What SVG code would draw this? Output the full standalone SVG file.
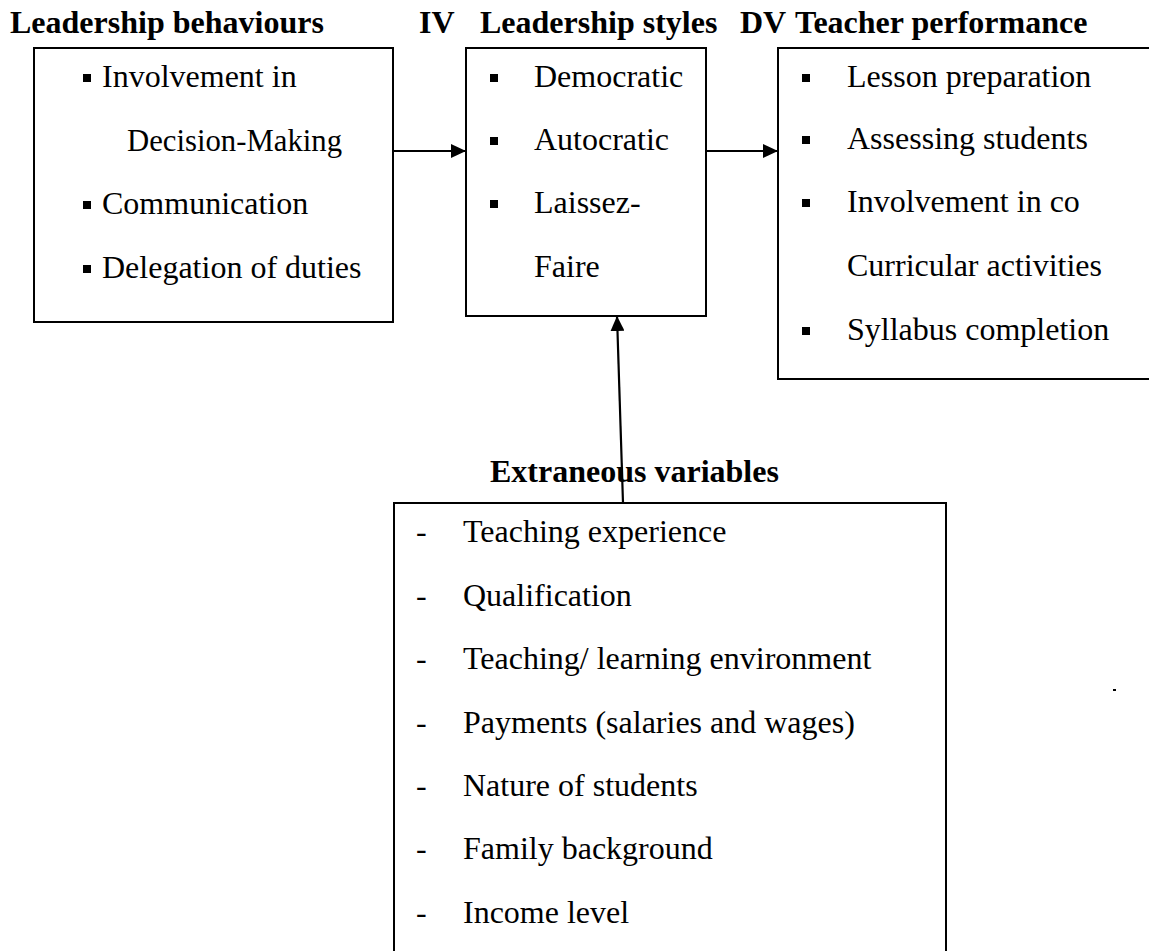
<svg xmlns="http://www.w3.org/2000/svg" width="1149" height="951" viewBox="0 0 1149 951">
<defs>
<style>
.box{fill:none;stroke:#000;stroke-width:2}
.t{font-family:"Liberation Serif","Times New Roman",serif;font-size:32px;fill:#000}
.h{font-family:"Liberation Serif","Times New Roman",serif;font-size:32px;font-weight:bold;fill:#000}
.b{fill:#000}
.c{stroke:#000;stroke-width:2.2;fill:none}
</style>
<marker id="arr" markerUnits="userSpaceOnUse" markerWidth="15" markerHeight="14" refX="15" refY="7" orient="auto">
<path d="M0,0 L15,7 L0,14 z" fill="#000"/>
</marker>
</defs>
<rect width="1149" height="951" fill="#fff"/>

<g id="titles">
<text class="h" x="10" y="33">Leadership behaviours</text>
<text class="h" x="419" y="33">IV</text>
<text class="h" x="480" y="33">Leadership styles</text>
<text class="h" x="740" y="33">DV</text>
<text class="h" x="795" y="33">Teacher performance</text>
<text class="h" x="490" y="482">Extraneous variables</text>
</g>

<g id="behaviours">
<rect class="box" x="34" y="48" width="359" height="274"/>
<rect class="b" x="83" y="74" width="8" height="8"/>
<text class="t" x="102" y="87">Involvement in</text>
<text class="t" x="127" y="151" textLength="215" lengthAdjust="spacingAndGlyphs">Decision-Making</text>
<rect class="b" x="83" y="201" width="8" height="8"/>
<text class="t" x="102" y="214">Communication</text>
<rect class="b" x="83" y="265" width="8" height="8"/>
<text class="t" x="102" y="278">Delegation of duties</text>
</g>

<g id="styles">
<rect class="box" x="466" y="48" width="240" height="268"/>
<rect class="b" x="490" y="74" width="8" height="8"/>
<text class="t" x="534" y="87">Democratic</text>
<rect class="b" x="490" y="137" width="8" height="8"/>
<text class="t" x="534" y="150">Autocratic</text>
<rect class="b" x="490" y="200" width="8" height="8"/>
<text class="t" x="534" y="213">Laissez-</text>
<text class="t" x="534" y="277">Faire</text>
</g>

<g id="performance">
<rect class="box" x="778" y="48" width="390" height="331"/>
<rect class="b" x="802" y="74" width="8" height="8"/>
<text class="t" x="847" y="87">Lesson preparation</text>
<rect class="b" x="802" y="136" width="8" height="8"/>
<text class="t" x="847" y="149">Assessing students</text>
<rect class="b" x="802" y="199" width="8" height="8"/>
<text class="t" x="847" y="212">Involvement in co</text>
<text class="t" x="847" y="276">Curricular activities</text>
<rect class="b" x="802" y="327" width="8" height="8"/>
<text class="t" x="847" y="340">Syllabus completion</text>
</g>

<g id="extraneous">
<rect class="box" x="394" y="503" width="552" height="470"/>
<text class="t" x="416" y="542">-</text><text class="t" x="463" y="542">Teaching experience</text>
<text class="t" x="416" y="606">-</text><text class="t" x="463" y="606">Qualification</text>
<text class="t" x="416" y="669">-</text><text class="t" x="463" y="669">Teaching/ learning environment</text>
<text class="t" x="416" y="733">-</text><text class="t" x="463" y="733">Payments (salaries and wages)</text>
<text class="t" x="416" y="796">-</text><text class="t" x="463" y="796">Nature of students</text>
<text class="t" x="416" y="859">-</text><text class="t" x="463" y="859">Family background</text>
<text class="t" x="416" y="923">-</text><text class="t" x="463" y="923">Income level</text>
</g>

<g id="connectors">
<line class="c" x1="393" y1="151" x2="466" y2="151" marker-end="url(#arr)"/>
<line class="c" x1="706" y1="151" x2="778" y2="151" marker-end="url(#arr)"/>
<line class="c" x1="623" y1="503" x2="617" y2="316" marker-end="url(#arr)"/>
</g>

<rect x="1113" y="689" width="3" height="2" fill="#000"/>
</svg>
